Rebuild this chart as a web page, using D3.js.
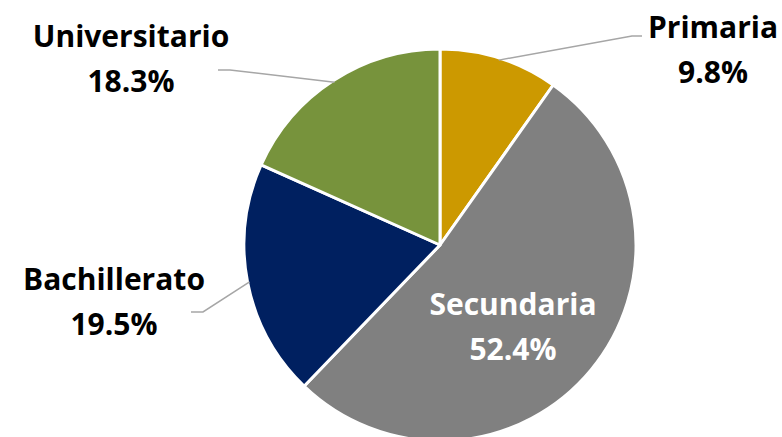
<!DOCTYPE html>
<html>
<head>
<meta charset="utf-8">
<script src="https://cdn.jsdelivr.net/npm/d3@7/dist/d3.min.js"></script>
<style>
  html, body { margin: 0; padding: 0; background: #fff; }
  svg { display: block; }
</style>
</head>
<body>
<svg id="chart" width="782" height="437"></svg>
<script>
// Education level shares
const categories = ["Primaria", "Secundaria", "Bachillerato", "Universitario"];
const shares = [9.8, 52.4, 19.5, 18.3];
const colors = ["#CC9900", "#808080", "#002060", "#77933C"];

const width = 782, height = 437;
const cx = 440, cy = 245, radius = 196;

const svg = d3.select("#chart");

const pie = d3.pie().sort(null).value(d => d.value);
const arc = d3.arc().innerRadius(0).outerRadius(radius);

const data = categories.map((c, i) => ({ name: c, value: shares[i], color: colors[i] }));
const arcs = pie(data);

const g = svg.append("g").attr("transform", `translate(${cx},${cy})`);

g.selectAll("path.slice")
  .data(arcs)
  .join("path")
  .attr("class", "slice")
  .attr("d", arc)
  .attr("fill", d => d.data.color)
  .attr("stroke", "#fff")
  .attr("stroke-width", 3)
  .attr("stroke-linejoin", "round");

// Label placement: centre of each label block and leader-line elbow
const labelLayout = {
  "Primaria":      { x: 713, y: 38, inside: false, elbow: [[642, 36], [632, 36]] },
  "Secundaria":    { x: 513, y: 315, inside: true },
  "Bachillerato":  { x: 114, y: 290, inside: false, elbow: [[191, 312], [203, 312]] },
  "Universitario": { x: 131, y: 47, inside: false, elbow: [[218, 70], [230, 70]] }
};

const fmt = v => v.toFixed(1) + "%";
const lineGap = 45;

arcs.forEach(a => {
  const L = labelLayout[a.data.name];
  // point on the slice rim at its angular midpoint
  const mid = (a.startAngle + a.endAngle) / 2;
  const rim = [cx + Math.sin(mid) * (radius - 2), cy - Math.cos(mid) * (radius - 2)];

  if (!L.inside) {
    svg.append("path")
      .attr("d", d3.line()([L.elbow[0], L.elbow[1], rim]))
      .attr("fill", "none")
      .attr("stroke", "#A6A6A6")
      .attr("stroke-width", 1.5);
  }

  const t = svg.append("text")
    .attr("text-anchor", "middle")
    .attr("font-family", "'Open Sans', Lato, sans-serif")
    .attr("font-weight", "bold")
    .attr("font-size", 30)
    .attr("fill", L.inside ? "#fff" : "#000");
  t.append("tspan").attr("x", L.x).attr("y", L.y).text(a.data.name);
  t.append("tspan").attr("x", L.x).attr("y", L.y + lineGap).text(fmt(a.data.value));
});
</script>
</body>
</html>
